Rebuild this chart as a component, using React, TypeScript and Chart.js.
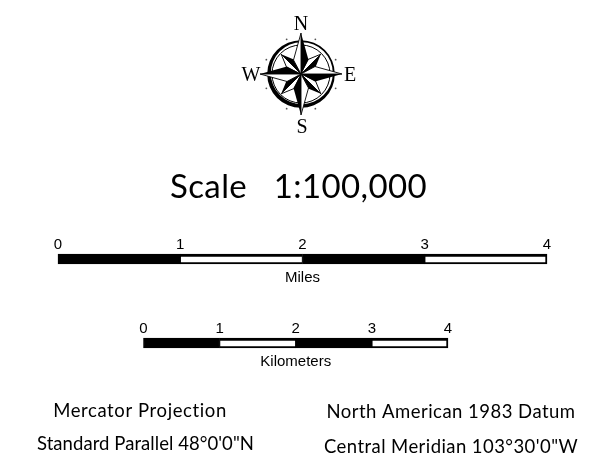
import React, { useEffect, useRef } from "react";
import { Chart, registerables } from "chart.js";

Chart.register(...registerables);

const barNames = ["Miles", "Kilometers"];
const mileBreaks = [0, 1, 2, 3, 4];
const kilometerBreaks = [0, 1, 2, 3, 4];
const segmentTones = ["black", "white", "black", "white"];
const scaleTitle = "Scale   1:100,000";
const leftNotes = ["Mercator Projection", 'Standard Parallel 48°0\'0"N'];
const rightNotes = ["North American 1983 Datum", 'Central Meridian 103°30\'0"W'];
const compassLetters = ["N", "E", "S", "W"];

function segmentDatasets(breaks: number[], row: number, axisId: string) {
  return segmentTones.map((tone, i) => {
    const data: ([number, number] | null)[] = barNames.map(() => null);
    data[row] = [breaks[i], breaks[i + 1]];
    return {
      label: `${barNames[row]} ${i}`,
      data,
      xAxisID: axisId,
      yAxisID: "y",
      backgroundColor: tone === "black" ? "#000000" : "#ffffff",
      borderColor: "#000000",
      borderWidth: { top: 3, bottom: 2, left: 1, right: i === 3 ? 2 : 1 },
      borderSkipped: false,
      barThickness: 10,
      clip: false as const,
    };
  });
}

function compass(ctx: CanvasRenderingContext2D) {
  const cx = 301;
  const cy = 74;
  ctx.save();
  ctx.translate(cx, cy);

  // ring: heavier towards the lower left
  ctx.strokeStyle = "#000";
  ctx.fillStyle = "#000";
  ctx.beginPath();
  ctx.arc(0, 0, 33.8, 0, Math.PI * 2);
  ctx.arc(0.8, -0.8, 31, 0, Math.PI * 2, true);
  ctx.fill();
  ctx.lineWidth = 1;
  ctx.beginPath();
  ctx.arc(0, 0, 29, 0, Math.PI * 2);
  ctx.stroke();

  // small studs
  ctx.fillStyle = "#555";
  for (let i = 0; i < 8; i++) {
    const a = (Math.PI / 4) * i + Math.PI / 8;
    ctx.beginPath();
    ctx.arc(Math.cos(a) * 37.5, Math.sin(a) * 37.5, 0.9, 0, Math.PI * 2);
    ctx.fill();
  }

  const point = (angle: number, radius: number, along: number, side: number) => {
    ctx.save();
    ctx.rotate(angle);
    ctx.fillStyle = "#000";
    ctx.beginPath();
    ctx.moveTo(0, 0);
    ctx.lineTo(0, -radius);
    ctx.lineTo(side, -along);
    ctx.closePath();
    ctx.fill();
    ctx.fillStyle = "#fff";
    ctx.strokeStyle = "#000";
    ctx.lineWidth = 0.9;
    ctx.lineJoin = "miter";
    ctx.beginPath();
    ctx.moveTo(0, 0);
    ctx.lineTo(0, -radius);
    ctx.lineTo(-side, -along);
    ctx.closePath();
    ctx.fill();
    ctx.stroke();
    ctx.restore();
  };

  for (let i = 0; i < 4; i++) point(Math.PI / 4 + (i * Math.PI) / 2, 28, 14.8, 5.5);
  for (let i = 0; i < 4; i++) point((i * Math.PI) / 2, 41, 14, 7.5);
  ctx.restore();

  ctx.fillStyle = "#000";
  ctx.font = '20px "Liberation Serif"';
  ctx.textAlign = "center";
  ctx.textBaseline = "alphabetic";
  ctx.fillText(compassLetters[0], 301, 30);
  ctx.fillText(compassLetters[1], 350, 81);
  ctx.fillText(compassLetters[2], 302, 133);
  ctx.fillText(compassLetters[3], 251, 81);
}

function fitted(ctx: CanvasRenderingContext2D, text: string, cx: number, y: number, width: number) {
  (ctx as any).letterSpacing = "0px";
  const natural = ctx.measureText(text).width;
  const spacing = (width - natural) / text.length;
  (ctx as any).letterSpacing = `${spacing}px`;
  ctx.fillText(text, cx, y);
  (ctx as any).letterSpacing = "0px";
}

const sheetPlugin = {
  id: "sheet",
  beforeDraw(chart: Chart) {
    const ctx = chart.ctx;
    ctx.save();
    ctx.fillStyle = "#ffffff";
    ctx.fillRect(0, 0, chart.width, chart.height);
    ctx.restore();
  },
  afterDraw(chart: Chart) {
    const ctx = chart.ctx;
    ctx.save();
    compass(ctx);

    ctx.fillStyle = "#000";
    ctx.textAlign = "center";
    ctx.textBaseline = "alphabetic";

    ctx.font = "33px Lato";
    fitted(ctx, scaleTitle, 298.5, 198, 257);

    ctx.font = "18.5px Lato";
    fitted(ctx, leftNotes[0], 140, 417, 174);
    fitted(ctx, leftNotes[1], 145.5, 450, 217);
    fitted(ctx, rightNotes[0], 451, 418, 249);
    fitted(ctx, rightNotes[1], 451, 453, 254);

    ctx.font = '15px "Liberation Sans"';
    const y = chart.scales.y;
    const mid = (id: string) => chart.scales[id].getPixelForValue(2);
    ctx.fillText(barNames[0], mid("xMiles"), y.getPixelForValue(0) + 23);
    ctx.fillText(barNames[1], mid("xKilometers"), y.getPixelForValue(1) + 23);
    ctx.restore();
  },
};

function axisFor(min: number, max: number, breaks: number[], row: number) {
  return {
    type: "linear" as const,
    axis: "x" as const,
    min,
    max,
    position: { y: row },
    border: { display: false },
    grid: { display: false },
    afterBuildTicks(scale: any) {
      scale.ticks = breaks.map((value) => ({ value }));
    },
    ticks: {
      autoSkip: false,
      maxRotation: 0,
      padding: -31,
      color: "#000000",
      font: { family: '"Liberation Sans"', size: 15 },
    },
  };
}

export default function App() {
  const ref = useRef<HTMLCanvasElement | null>(null);

  useEffect(() => {
    if (!ref.current) return;
    const chart = new Chart(ref.current, {
      type: "bar",
      data: {
        labels: barNames,
        datasets: [
          ...segmentDatasets(mileBreaks, 0, "xMiles"),
          ...segmentDatasets(kilometerBreaks, 1, "xKilometers"),
        ],
      },
      options: {
        indexAxis: "y",
        responsive: false,
        animation: false,
        grouped: false,
        layout: { padding: { top: 259, bottom: 131, left: 0, right: 0 }, autoPadding: false },
        plugins: { legend: { display: false }, tooltip: { enabled: false }, title: { display: false } },
        scales: {
          y: {
            type: "category",
            offset: false,
            display: false,
          },
          xMiles: axisFor(-0.4744, 4.4335, mileBreaks, 0),
          xKilometers: axisFor(-1.885, 5.997, kilometerBreaks, 1),
        },
      } as any,
      plugins: [sheetPlugin],
    });
    return () => chart.destroy();
  }, []);

  return (
    <div style={{ position: "absolute", left: 0, top: 0, width: 600, height: 474 }}>
      <canvas ref={ref} width={600} height={474} style={{ display: "block" }} />
    </div>
  );
}
